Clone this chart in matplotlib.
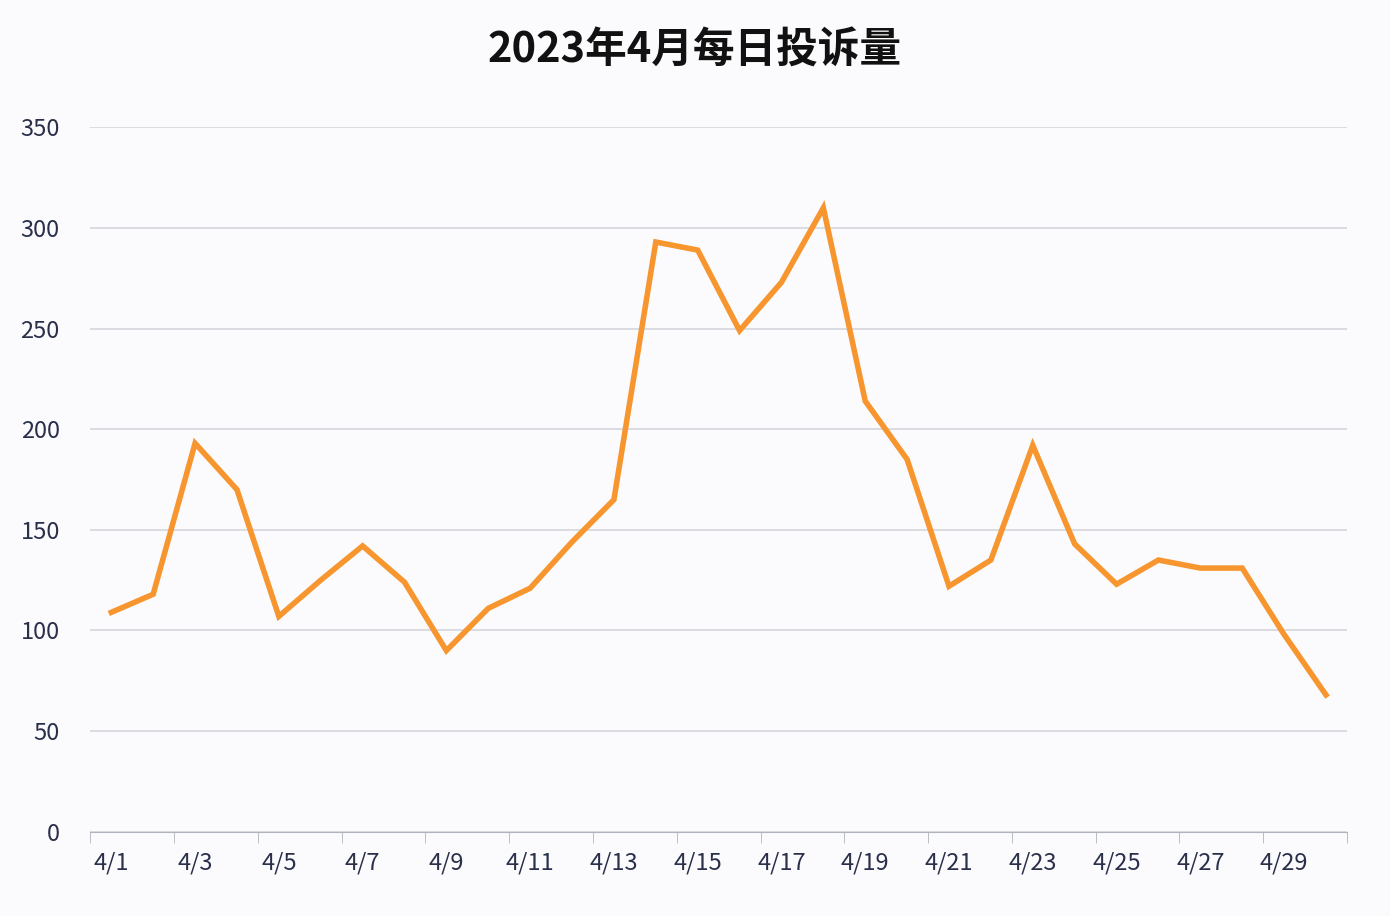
import matplotlib.pyplot as plt
import numpy as np

plt.rcParams['font.family'] = ['Noto Sans CJK SC', 'DejaVu Sans']

days = [f"4/{d}" for d in range(1, 31)]
counts = [109, 118, 193, 170, 107, 125, 142, 124, 90, 111,
          121, 144, 165, 293, 289, 249, 273, 310, 214, 185,
          122, 135, 192, 143, 123, 135, 131, 131, 98, 68]

fig = plt.figure(figsize=(13.9, 9.16), dpi=100, facecolor='#fbfbfe')
ax = fig.add_axes([0.065, 0.092, 0.904, 0.769])
ax.set_facecolor('#fbfbfe')

x = np.arange(len(days))
ax.plot(x, counts, color='#f7962f', lw=4, solid_joinstyle='miter')

ax.set_xlim(-0.5, len(days) - 0.5)
ax.set_ylim(0, 350)
ax.set_yticks(range(0, 351, 50))
ax.yaxis.grid(True, color='#d4d6dc', lw=1.2)
ax.set_axisbelow(True)

# category labels every 2 days, tick marks at group boundaries
ax.set_xticks(x[::2])
ax.set_xticklabels(days[::2])
ax.set_xticks(np.arange(-0.5, len(days), 2), minor=True)
ax.tick_params(axis='x', which='major', length=0, pad=14, labelsize=17, colors='#2a2f4a')
ax.tick_params(axis='x', which='minor', length=8, color='#b0b3bb')
ax.tick_params(axis='y', length=0, pad=22, labelsize=17, colors='#2a2f4a')

for s in ['top', 'right', 'left']:
    ax.spines[s].set_visible(False)
ax.spines['bottom'].set_color('#b0b3bb')

fig.text(0.5, 0.945, '2023年4月每日投诉量', ha='center', va='center',
         fontsize=30, fontweight='bold', color='#111111')

fig.savefig('out.png', dpi=100, facecolor=fig.get_facecolor())
